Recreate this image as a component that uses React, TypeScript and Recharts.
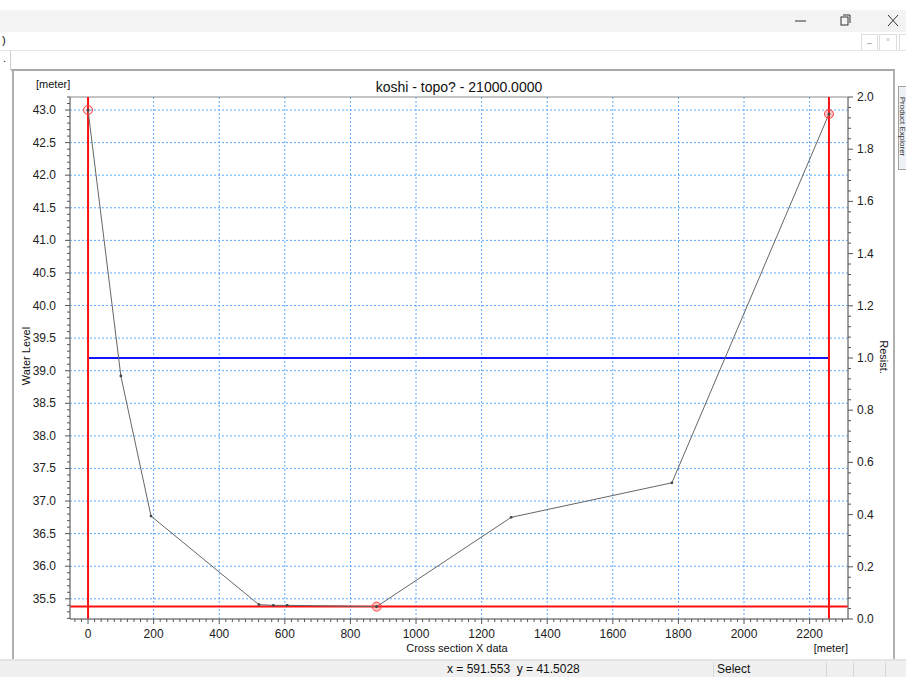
import React from "react";
import {
  CartesianGrid,
  ComposedChart,
  Line,
  ReferenceArea,
  ReferenceLine,
  XAxis,
  YAxis,
} from "recharts";

// cross section points: x [m] and bed level [m]
const sectionX = [0, 100, 192, 521, 565, 607, 880, 1290, 1780, 2259];
const sectionZ = [43.0, 38.92, 36.77, 35.41, 35.4, 35.4, 35.38, 36.75, 37.28, 42.94];
const markerX = [0, 880, 2259];

// resistance line (right axis)
const resistX = [0, 2259];
const resistR = [1.0, 1.0];

// red marker lines
const markerVert = [0, 2259];
const markerLevel = 35.38;

const xMajor = [0, 200, 400, 600, 800, 1000, 1200, 1400, 1600, 1800, 2000, 2200];
const leftMajor = [35.5, 36.0, 36.5, 37.0, 37.5, 38.0, 38.5, 39.0, 39.5, 40.0, 40.5, 41.0, 41.5, 42.0, 42.5, 43.0];
const rightMajor = [0, 0.2, 0.4, 0.6, 0.8, 1.0, 1.2, 1.4, 1.6, 1.8, 2.0];

const xDomain = [-55, 2317];
const leftDomain = [35.19, 43.2];
const rightDomain = [0, 2];

const terrain = sectionX.map((x, i) => ({ x, z: sectionZ[i] }));
const resist = resistX.map((x, i) => ({ x, r: resistR[i] }));

function steps(from: number, to: number, step: number) {
  const out: number[] = [];
  const n = Math.round((to - from) / step);
  for (let i = 0; i <= n; i++) out.push(Math.round((from + i * step) * 1000) / 1000);
  return out;
}
const xTicks = steps(-40, 2300, 20);
const leftTicks = steps(35.2, 43.2, 0.1);
const rightTicks = steps(0, 2, 0.04);

const isMul = (v: number, m: number) => Math.abs(v / m - Math.round(v / m)) < 1e-6;
const tickColor = "#555";
const labelColor = "#222";

function XTick({ x, y, payload }: any) {
  const v = payload.value;
  const major = isMul(v, 200);
  return (
    <g>
      <line x1={x} x2={x} y1={y} y2={y + (major ? 5 : 3)} stroke={tickColor} />
      {major && (
        <text x={x} y={y + 19} textAnchor="middle" fontSize={12} fill={labelColor}>
          {v}
        </text>
      )}
    </g>
  );
}

function LeftTick({ x, y, payload }: any) {
  const v = payload.value;
  const major = isMul(v, 0.5);
  return (
    <g>
      <line x1={x - (major ? 5 : 3)} x2={x} y1={y} y2={y} stroke={tickColor} />
      {major && (
        <text x={x - 14} y={y + 4} textAnchor="end" fontSize={12} fill={labelColor}>
          {v.toFixed(1)}
        </text>
      )}
    </g>
  );
}

function RightTick({ x, y, payload }: any) {
  const v = payload.value;
  const major = isMul(v, 0.2);
  return (
    <g>
      <line x1={x} x2={x + (major ? 5 : 3)} y1={y} y2={y} stroke={tickColor} />
      {major && (
        <text x={x + 9} y={y + 4} textAnchor="start" fontSize={12} fill={labelColor}>
          {v.toFixed(1)}
        </text>
      )}
    </g>
  );
}

function SectionDot({ cx, cy, payload, index }: any) {
  if (markerX.includes(payload.x)) {
    return (
      <g key={payload.x}>
        <circle
          cx={cx}
          cy={cy}
          r={4.5}
          fill={index === 0 ? "rgba(255,60,60,0.12)" : "rgba(255,60,60,0.3)"}
          stroke="#ff4040"
          strokeWidth={1}
        />
        <circle cx={cx} cy={cy} r={1.5} fill="#444" />
      </g>
    );
  }
  return <circle key={payload.x} cx={cx} cy={cy} r={1.4} fill="#444" />;
}

const abs = (left: number, top: number, extra: React.CSSProperties = {}): React.CSSProperties => ({
  position: "absolute",
  left,
  top,
  ...extra,
});

export default function App() {
  return (
    <div
      style={{
        position: "absolute",
        left: 0,
        top: 0,
        width: 906,
        height: 677,
        background: "#fff",
        overflow: "hidden",
        fontFamily: '"Liberation Sans", Arial, sans-serif',
        color: "#111",
      }}
    >
      {/* window title bar */}
      <div style={abs(0, 10, { width: 906, height: 22, background: "#f3f3f3" })} />
      <svg style={abs(790, 12)} width={116} height={18}>
        <line x1={5} x2={16} y1={9} y2={9} stroke="#333" />
        <rect x={51} y={5} width={7} height={8} fill="none" stroke="#333" />
        <path d="M53 3 H60 V11" fill="none" stroke="#333" />
        <path d="M98 3 L108 14 M108 3 L98 14" stroke="#333" />
      </svg>

      {/* menu rows */}
      <div style={abs(2, 34, { fontSize: 11 })}>)</div>
      <div style={abs(861, 34, { width: 15, height: 15, border: "1px solid #ddd", fontSize: 8, textAlign: "center", color: "#666" })}>_</div>
      <div style={abs(879, 34, { width: 16, height: 15, border: "1px solid #ddd", fontSize: 8, textAlign: "center", color: "#666" })}>▫</div>
      <div style={abs(899, 34, { width: 10, height: 15, border: "1px solid #ddd" })} />
      <div style={abs(0, 50, { width: 906, height: 1, background: "#e6e6e6" })} />
      <div style={abs(3, 52, { fontSize: 11 })}>.</div>
      <div style={abs(10, 51, { width: 1, height: 19, background: "#d0d0d0" })} />

      {/* chart panel frame */}
      <div style={abs(11, 69, { width: 884, height: 2, background: "#a8a8a8" })} />
      <div style={abs(12, 70, { width: 2, height: 589, background: "#b0b0b0" })} />
      <div style={abs(893, 70, { width: 2, height: 589, background: "#b0b0b0" })} />
      <div style={abs(898, 86, { width: 10, height: 82, border: "1px solid #a0a0a0", background: "#eef1f6" })} />
      <div
        style={abs(862, 122, {
          width: 80,
          height: 9,
          lineHeight: "9px",
          fontSize: 8,
          textAlign: "center",
          transform: "rotate(90deg)",
          color: "#333",
        })}
      >
        Product Explorer
      </div>

      {/* status bar */}
      <div style={abs(0, 659, { width: 906, height: 18, background: "#f0f0f0", borderTop: "2px solid #e4e4e4" })} />
      {[713, 826, 853, 885].map((x) => (
        <div key={x} style={abs(x, 662, { width: 1, height: 15, background: "#d8d8d8" })} />
      ))}
      <div style={abs(447, 662, { fontSize: 12, whiteSpace: "pre" })}>x = 591.553  y = 41.5028</div>
      <div style={abs(717, 662, { fontSize: 12 })}>Select</div>

      {/* chart */}
      <div style={abs(0, 0)}>
        <ComposedChart
          width={906}
          height={677}
          margin={{ top: 97, right: 18, bottom: 28, left: 30 }}
          style={{ fontFamily: '"Liberation Sans", Arial, sans-serif' }}
        >
          <CartesianGrid
            xAxisId="x"
            yAxisId="left"
            horizontalValues={leftMajor}
            verticalValues={xMajor}
            stroke="#5aa9ff"
            strokeDasharray="2 2"
          />
          <XAxis
            xAxisId="x"
            type="number"
            dataKey="x"
            domain={xDomain}
            allowDataOverflow
            ticks={xTicks}
            interval={0}
            tick={<XTick />}
            tickLine={false}
            tickSize={0}
            tickMargin={0}
            height={30}
            stroke="#7a7a7a"
          />
          <YAxis
            yAxisId="left"
            type="number"
            domain={leftDomain}
            allowDataOverflow
            ticks={leftTicks}
            interval={0}
            tick={<LeftTick />}
            tickLine={false}
            tickSize={0}
            tickMargin={0}
            width={40}
            stroke="#7a7a7a"
          />
          <YAxis
            yAxisId="right"
            orientation="right"
            type="number"
            domain={rightDomain}
            allowDataOverflow
            ticks={rightTicks}
            interval={0}
            tick={<RightTick />}
            tickLine={false}
            tickSize={0}
            tickMargin={0}
            width={40}
            stroke="#7a7a7a"
          />
          <ReferenceArea
            xAxisId="x"
            yAxisId="left"
            x1={xDomain[0]}
            x2={xDomain[1]}
            y1={leftDomain[0]}
            y2={leftDomain[1]}
            fill="none"
            fillOpacity={0}
            stroke="#8a8a8a"
          />
          <Line
            xAxisId="x"
            yAxisId="right"
            data={resist}
            dataKey="r"
            stroke="#1414ff"
            strokeWidth={2}
            dot={false}
            isAnimationActive={false}
          />
          {markerVert.map((x) => (
            <ReferenceLine key={x} xAxisId="x" yAxisId="left" x={x} stroke="#ff1010" strokeWidth={2} />
          ))}
          <ReferenceLine xAxisId="x" yAxisId="left" y={markerLevel} stroke="#ff1010" strokeWidth={2} />
          <Line
            xAxisId="x"
            yAxisId="left"
            data={terrain}
            dataKey="z"
            stroke="#666"
            strokeWidth={1}
            dot={<SectionDot />}
            isAnimationActive={false}
          />
        </ComposedChart>
      </div>

      {/* chart texts */}
      <div style={abs(300, 79, { width: 318, textAlign: "center", fontSize: 14 })}>koshi - topo? - 21000.0000</div>
      <div style={abs(36, 78, { fontSize: 11 })}>[meter]</div>
      <div style={abs(812, 642, { width: 36, textAlign: "right", fontSize: 11 })}>[meter]</div>
      <div style={abs(357, 642, { width: 200, textAlign: "center", fontSize: 11 })}>Cross section X data</div>
      <div
        style={abs(-24, 350, {
          width: 100,
          textAlign: "center",
          fontSize: 11,
          transform: "rotate(-90deg)",
        })}
      >
        Water Level
      </div>
      <div
        style={abs(834, 351, {
          width: 100,
          textAlign: "center",
          fontSize: 11,
          transform: "rotate(90deg)",
        })}
      >
        Resist.
      </div>
    </div>
  );
}
